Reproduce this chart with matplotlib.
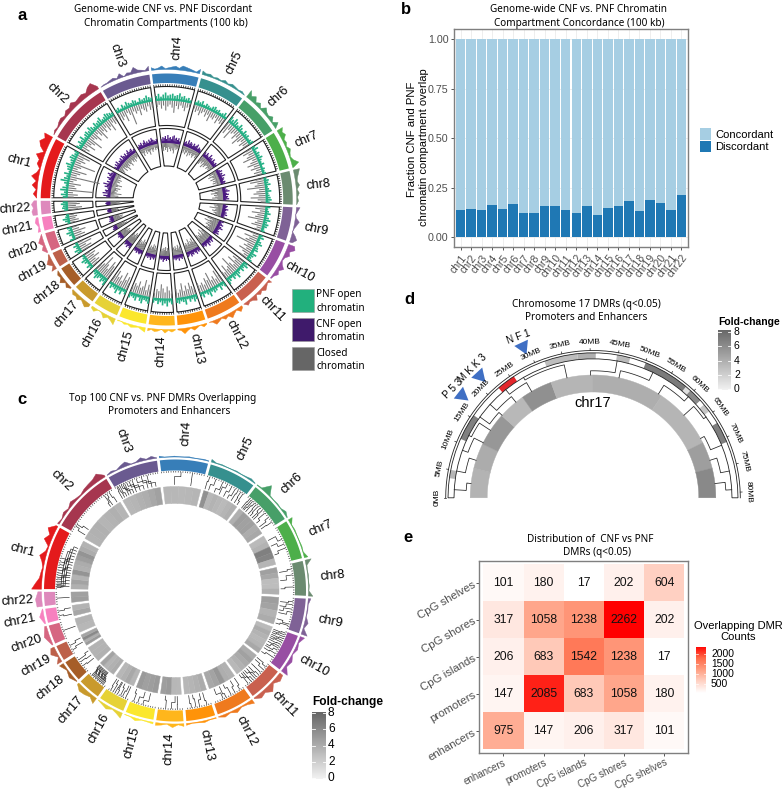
import numpy as np
import matplotlib
matplotlib.use('Agg')
import matplotlib.pyplot as plt
from matplotlib.patches import Polygon, Rectangle
from matplotlib.collections import LineCollection
from matplotlib.colors import LinearSegmentedColormap

W, H = 782, 792
SANS = 'Liberation Sans'
TITLE = 'Noto Sans'

chroms = ['chr%d' % i for i in range(1, 23)]
chr_colors = ['#E41A1C', '#A6364F', '#6A5A90', '#377EB8', '#36908E', '#479F68', '#4DAF4A', '#6B8B70',
              '#7F6296', '#984EA3', '#C9604F', '#EF7A1E', '#FF9309', '#FFB61C', '#FBE72C', '#E6D236',
              '#C99A2C', '#A65E28', '#BD604A', '#D66681', '#F781BF', '#DE89BC']
# angular length of each chromosome, degrees
chr_span = [28, 28.6, 22.5, 21.3, 20.9, 19, 17.6, 15.4, 15.5, 16.8, 15.4, 16.1,
            12.9, 12, 12.6, 11.6, 10, 9.5, 6.9, 8.4, 6.3, 6.2]

# panel a, outer histogram
a_hist = [
    [0, 4, 1, 6, 2, 8, 3, 1, 5, 4, 9, 2, 8, 11, 7, 10],
    [0, 2, 1, 3, 4, 2, 5, 4, 7, 4, 5, 6, 4, 8, 10, 3],
    [0, 1, 1, 2, 3, 1, 5, 0, 3, 2, 7, 3, 2, 1, 5],
    [3, 1, 2, 4, 1, 2, 3, 4, 2, 5, 4, 3, 2, 1, 5],
    [4, 2, 3, 1, 2, 1, 3, 1, 3, 2, 1, 2, 0],
    [9, 4, 7, 2, 5, 1, 6, 3, 2, 5, 1, 6, 0],
    [7, 4, 6, 2, 3, 1, 4, 2, 1, 3, 8, 1],
    [7, 5, 3, 2, 4, 1, 3, 1, 2, 0],
    [4, 2, 0, 1, 5, 3, 1, 0, 4, 7, 3],
    [7, 9, 4, 6, 2, 1, 3, 7, 3, 5, 2, 1],
    [4, 1, 3, 5, 2, 4, 1, 6, 3, 2, 4, 0],
    [2, 5, 1, 3, 6, 2, 4, 1, 3, 5, 1, 0],
    [1, 3, 0, 2, 4, 1, 3, 6, 2, 1],
    [1, 3, 1, 4, 0, 2, 3, 1, 3],
    [5, 3, 1, 2, 3, 1, 2, 0, 1],
    [7, 4, 2, 5, 1, 0, 4, 2],
    [3, 6, 4, 2, 5, 3, 4, 1],
    [1, 4, 1, 6, 2, 3, 0],
    [6, 2, 7, 3, 1],
    [1, 5, 2, 6, 3, 0],
    [3, 1, 4, 2],
    [5, 6, 4, 6, 3],
]

# panel a, PNF track: open chromatin above the midline, closed below
pnf_up = [
    [5, 7, 4, 8, 6, 3, 5, 9, 6, 4, 7, 3, 5, 6, 8, 4, 5, 7, 6, 4, 5],
    [6, 4, 7, 5, 8, 4, 6, 7, 5, 8, 6, 4, 7, 5, 6, 8, 4, 5, 7, 6, 5, 4],
    [4, 5, 3, 6, 4, 7, 5, 4, 6, 5, 3, 6, 4, 5, 7, 5, 4],
    [5, 7, 4, 6, 8, 5, 6, 7, 5, 6, 8, 5, 6, 4, 5, 3],
    [3, 5, 4, 6, 3, 5, 4, 3, 5, 6, 4, 5, 3, 4, 6, 3],
    [7, 5, 8, 6, 4, 7, 5, 3, 6, 4, 5, 3, 4, 5],
    [4, 6, 3, 5, 4, 6, 4, 3, 5, 2, 4, 3, 4],
    [3, 5, 4, 6, 3, 4, 6, 3, 4, 5, 6, 4],
    [5, 3, 4, 6, 3, 5, 7, 4, 6, 5, 3, 4],
    [4, 6, 3, 5, 7, 4, 5, 6, 3, 7, 5, 4, 6],
    [5, 7, 4, 6, 3, 5, 8, 4, 6, 3, 5, 7],
    [6, 4, 7, 3, 5, 6, 4, 8, 5, 3, 6, 4],
    [5, 7, 4, 6, 3, 8, 5, 4, 6, 5],
    [6, 4, 8, 5, 7, 4, 6, 3, 5],
    [7, 5, 4, 8, 6, 3, 7, 5, 4, 6],
    [5, 3, 7, 4, 8, 5, 4, 6, 3],
    [8, 5, 7, 4, 6, 8, 5, 4],
    [4, 6, 3, 5, 7, 4, 3],
    [5, 7, 4, 6, 3],
    [6, 3, 5, 7, 4, 5],
    [3, 5, 7, 4, 3],
    [4, 6, 5, 7, 5],
]
pnf_down = [
    [6, 10, 5, 25, 8, 6, 12, 4, 7, 30, 6, 9, 15, 5, 8, 22, 6, 10, 7, 13, 6],
    [5, 8, 4, 12, 6, 9, 16, 5, 7, 11, 4, 8, 14, 6, 9, 5, 10, 7, 13, 5, 8, 6],
    [5, 9, 6, 12, 4, 7, 18, 5, 8, 6, 11, 5, 7, 9, 4, 8, 6],
    [6, 4, 8, 5, 10, 6, 4, 7, 12, 5, 8, 4, 6, 9, 5, 4],
    [4, 7, 5, 9, 6, 4, 8, 5, 11, 6, 7, 4, 9, 5, 7, 6],
    [8, 12, 6, 15, 7, 5, 10, 6, 13, 8, 5, 9, 6, 7],
    [7, 11, 6, 9, 14, 5, 8, 12, 6, 10, 5, 8, 6],
    [8, 14, 7, 10, 18, 6, 9, 12, 7, 15, 8, 5],
    [6, 10, 5, 13, 7, 9, 16, 6, 8, 11, 5, 7],
    [9, 6, 14, 8, 11, 20, 7, 10, 6, 13, 8, 5, 9],
    [7, 12, 8, 15, 6, 10, 18, 9, 7, 13, 6, 8],
    [8, 14, 6, 10, 7, 16, 9, 12, 6, 9, 7, 10],
    [6, 9, 13, 7, 11, 6, 14, 8, 5, 9],
    [5, 8, 12, 6, 10, 14, 7, 9, 5],
    [8, 12, 6, 16, 9, 7, 13, 8, 10, 6],
    [7, 13, 9, 16, 6, 11, 8, 14, 7],
    [9, 14, 18, 8, 12, 20, 10, 7],
    [6, 10, 7, 13, 8, 11, 6],
    [8, 12, 7, 14, 6],
    [6, 11, 8, 13, 7, 5],
    [5, 9, 6, 8, 5],
    [10, 14, 8, 12, 9],
]

# panel a, CNF track
cnf_up = [
    [4, 7, 3, 8, 5, 6, 3, 4, 7, 5, 9, 4, 6, 3, 5, 7, 4, 6, 8, 5, 4],
    [5, 3, 6, 4, 7, 3, 5, 4, 6, 3, 7, 5, 4, 6, 3, 5, 7, 4, 5, 6, 3, 4],
    [3, 5, 4, 6, 3, 5, 7, 4, 5, 3, 6, 4, 7, 5, 4, 3, 5],
    [4, 6, 5, 7, 4, 8, 5, 6, 4, 7, 8, 5, 6, 4, 6, 3],
    [4, 5, 3, 7, 4, 6, 5, 3, 6, 4, 5, 7, 3, 5, 4, 3],
    [5, 3, 6, 4, 3, 7, 4, 5, 3, 6, 4, 3, 5, 4],
    [3, 4, 6, 3, 5, 4, 7, 3, 5, 4, 3, 5, 4],
    [4, 3, 5, 7, 3, 4, 6, 3, 5, 4, 6, 3],
    [3, 5, 4, 3, 6, 4, 3, 5, 4, 6, 3, 4],
    [5, 3, 4, 6, 3, 5, 7, 4, 3, 5, 4, 6, 3],
    [3, 4, 6, 3, 5, 4, 7, 3, 4, 5, 3, 4],
    [4, 5, 3, 6, 4, 3, 5, 4, 6, 3, 4, 5],
    [3, 5, 4, 3, 6, 3, 4, 5, 3, 4],
    [4, 3, 5, 3, 4, 6, 3, 4, 3],
    [3, 5, 4, 3, 6, 4, 3, 5, 3, 4],
    [4, 3, 5, 4, 3, 5, 3, 4, 3],
    [5, 3, 4, 6, 3, 4, 5, 3],
    [3, 4, 3, 5, 3, 4, 3],
    [4, 5, 3, 4, 3],
    [3, 5, 3, 4, 3, 4],
    [3, 4, 3, 4, 3],
    [4, 3, 5, 3, 4],
]
cnf_down = [
    [5, 8, 4, 11, 6, 4, 7, 5, 9, 4, 6, 10, 5, 4, 7, 5, 8, 4, 6, 5, 7],
    [4, 7, 5, 3, 8, 4, 6, 10, 5, 7, 4, 6, 9, 5, 4, 7, 5, 8, 4, 6, 5, 4],
    [5, 4, 8, 5, 3, 7, 4, 6, 9, 5, 4, 7, 5, 3, 6, 4, 5],
    [6, 8, 4, 7, 5, 9, 4, 6, 8, 5, 7, 10, 4, 6, 5, 4],
    [5, 7, 4, 8, 6, 4, 9, 5, 7, 4, 6, 8, 5, 4, 7, 5],
    [6, 9, 5, 7, 4, 10, 6, 8, 5, 4, 7, 5, 6, 4],
    [5, 8, 4, 10, 6, 5, 9, 4, 7, 5, 8, 4, 6],
    [7, 11, 5, 8, 12, 6, 9, 5, 8, 11, 6, 5],
    [6, 9, 5, 8, 13, 6, 7, 10, 5, 8, 6, 5],
    [8, 12, 6, 9, 14, 7, 10, 6, 11, 8, 6, 9, 5],
    [7, 10, 6, 13, 8, 6, 11, 7, 9, 6, 10, 5],
    [8, 6, 11, 7, 9, 6, 12, 8, 6, 9, 7, 6],
    [5, 8, 6, 10, 7, 5, 9, 6, 8, 5],
    [6, 8, 5, 9, 6, 8, 5, 7, 5],
    [7, 5, 9, 6, 10, 7, 5, 8, 6, 5],
    [6, 9, 7, 11, 6, 8, 5, 9, 6],
    [8, 11, 7, 12, 9, 6, 10, 7],
    [6, 9, 7, 10, 6, 8, 5],
    [8, 11, 6, 9, 6],
    [6, 9, 7, 10, 6, 5],
    [6, 8, 5, 7, 5],
    [7, 10, 6, 9, 6],
]

# panel c, outer histogram and inner fold-change ring
c_hist = [
    [11, 7, 3, 2, 1, 3, 7, 2, 1, 8, 4, 9, 2],
    [2, 0.5, 3, 1, 4, 2, 1, 3, 4, 5, 8, 2],
    [0.5, 2, 0.5, 3, 5, 0.5, 1, 4, 1, 3, 0.5],
    [2, 0.5, 0.5, 1, 0.5, 0.5, 1, 0.5, 0.5, 1, 0.5],
    [3, 0.5, 1, 0.5, 0.5, 1, 0.5, 1, 2, 0.5],
    [0.5, 1, 10, 1, 0.5, 1, 0.5, 3, 0.5],
    [5, 0.5, 1, 0.5, 0.5, 1, 0.5, 4],
    [7, 1, 0.5, 1, 0.5, 1, 0.5, 5],
    [3, 0.5, 1, 0.5, 4, 1, 7],
    [5, 1, 3, 0.5, 4, 2, 8],
    [4, 6, 2, 8, 3, 5, 1],
    [5, 2, 1, 4, 1, 3, 0.5],
    [1, 0.5, 2, 1, 0.5, 2],
    [3, 1, 4, 0.5, 2, 3],
    [2, 1, 0.5, 3, 0.5, 0.5],
    [6, 3, 1, 4, 2, 0.5],
    [7, 3, 5, 6, 2],
    [0.5, 4, 1, 5],
    [6, 1, 7, 4],
    [1, 6, 2],
    [1, 5, 0.5],
    [6, 7, 4],
]
c_ring = [
    [3.8, 4.5, 3.6, 5.4, 3.8, 4, 4.8, 5.4, 4, 3.6],
    [3.6, 3.7, 3.8, 3.5, 3.6, 3.8, 3.5],
    [3.4, 3.5, 3.7, 3.9, 4.2, 4.6],
    [3.4, 3.4, 3.3, 3.4, 3.5],
    [5.5, 3.3, 3.6, 3.4, 3.2, 3.5, 3.8],
    [3.8, 4.8, 4.6, 4.7, 4, 4.2],
    [3.2, 3.6, 6.5, 6.2, 3.5],
    [4.7, 4.2, 3, 3, 3.8],
    [4.8, 4.5, 3.6, 4],
    [3.2, 4, 3.6, 3.3, 3.5, 4.2],
    [4, 4.6, 4.1, 3.7, 3.3],
    [3.7, 3.9, 5.2, 4.5, 4.2],
    [4, 3.7, 3.5, 3.4],
    [3.3, 3.4, 5, 4.8],
    [5, 4.8, 4.7, 5],
    [3.5, 4.2, 3.7, 3.4],
    [4, 3.7, 3.5, 4.5],
    [3.7, 3.6, 3.6],
    [5, 3.9, 6, 4.4],
    [3.4, 3.6],
    [4.3, 3.6],
    [4.8, 4.6],
]
# DMR links: position on the band and on the ring, as fraction of the chromosome
link_from = [
    [.02, .03, .05, .07, .1, .13, .17, .2, .24, .28, .33, .38, .43, .48, .55],
    [.1, .14, .83, .88, .93],
    [.03, .06, .1, .14, .18, .22, .27, .33, .4, .5, .62, .75],
    [.45, .72],
    [.04, .2, .38, .5, .62, .72, .8, .87, .94],
    [.05, .1, .15, .22, .28, .35, .42, .5, .6, .75, .9],
    [.35, .5, .62],
    [.15, .35, .75],
    [.1, .2, .35, .45, .85, .9],
    [.03, .09, .15, .21, .27, .33, .4, .47, .53, .6, .72, .85],
    [.1, .22, .35, .45, .55, .62, .7, .78, .9],
    [.1, .28, .42, .6, .7],
    [.15, .45, .6, .78],
    [.2, .45, .7],
    [.5, .72, .9],
    [.1, .25, .35, .5, .62, .72, .85],
    [.1, .17, .24, .31, .38, .45, .52, .59, .66, .73, .8, .87],
    [.35, .6, .75],
    [.25, .65],
    [.5],
    [.3, .7],
    [.5],
]
link_to = [
    [.05, .1, .16, .22, .26, .31, .36, .41, .47, .52, .58, .64, .7, .76, .82],
    [.06, .18, .8, .85, .95],
    [.02, .08, .14, .2, .26, .33, .4, .5, .6, .7, .8, .9],
    [.3, .72],
    [.02, .12, .28, .42, .55, .66, .78, .88, .97],
    [.04, .09, .13, .2, .3, .38, .46, .52, .66, .8, .88],
    [.2, .4, .7],
    [.2, .5, .8],
    [.15, .3, .45, .55, .78, .94],
    [.06, .12, .18, .24, .3, .36, .42, .5, .6, .66, .75, .9],
    [.05, .15, .35, .5, .6, .7, .78, .85, .95],
    [.05, .22, .5, .65, .85],
    [.2, .35, .65, .82],
    [.2, .3, .75],
    [.3, .55, .95],
    [.1, .2, .42, .55, .6, .78, .88],
    [.3, .35, .4, .46, .52, .58, .64, .7, .76, .82, .88, .94],
    [.3, .55, .85],
    [.4, .8],
    [.5],
    [.2, .8],
    [.5],
]

# panel b
discordant = [.135, .14, .135, .162, .14, .167, .123, .123, .157, .155, .137, .12,
              .155, .11, .147, .155, .182, .133, .185, .172, .137, .212]

# panel d
d_ticks = list(range(0, 85, 5))
d_band_start = [3.5, 10.8, 31.7, 37.7, 44.8, 50.1, 58.5, 59.5, 63, 67]
d_band_end = [5, 15.6, 37.7, 41, 47.2, 58.5, 59.5, 62, 64.5, 70.8]
d_band_fold = [3.5, 6.5, 3, 3.8, 3.2, 6.8, 1, 6, 2.5, 6.6]
d_red_start, d_red_end = 22.2, 25.6
d_ring_edges = [0, 6.3, 11.7, 18.9, 24.75, 31.5, 40.5, 55.8, 69, 74.7, 81]
d_ring_fold = [3.6, 4, 5.2, 3.3, 5.6, 3.5, 3.9, 3.5, 4.8, 6]
d_link_ring = [3, 8, 12, 15, 19, 23, 27, 35, 40, 46, 55, 62, 68, 73, 78]
d_link_band = [1.5, 5, 9, 12, 16, 19, 23, 27, 45, 52, 60, 65, 71, 76, 79.5]
genes = ['P 5 3', 'M K K 3', 'N F 1']
gene_pos = [17.1, 21.2, 29.3]
gene_rot = [45, 45, 20]

# panel e
e_labels = ['enhancers', 'promoters', 'CpG islands', 'CpG shores', 'CpG shelves']
e_enhancers = [975, 147, 206, 317, 101]
e_promoters = [147, 2085, 683, 1058, 180]
e_islands = [206, 683, 1542, 1238, 17]
e_shores = [317, 1058, 1238, 2262, 202]
e_shelves = [101, 180, 17, 202, 604]

fold_cmap = LinearSegmentedColormap.from_list('fold', ['#F2F2F2', '#666666'])
count_cmap = LinearSegmentedColormap.from_list('count', ['#FFFFFF', '#FFD2C4', '#FF9E81', '#FF6A48', '#FF0000'])

fig = plt.figure(figsize=(W / 100, H / 100), dpi=100)
canvas = fig.add_axes([0, 0, 1, 1])
canvas.set_xlim(0, W)
canvas.set_ylim(H, 0)
canvas.set_axis_off()

# angle at the middle of the gap before each chromosome
chr_gap = (360 - sum(chr_span)) / 22
gap_mid = [180.0]
for s in chr_span:
    gap_mid.append(gap_mid[-1] - s - chr_gap)


def pol(cx, cy, r, t):
    t = np.radians(t)
    return np.column_stack([cx + r * np.cos(t), cy - r * np.sin(t)])


def chr_limits(i, r, half_gap):
    d = np.degrees(half_gap / r)
    return gap_mid[i] - d, gap_mid[i + 1] + d


def sector(cx, cy, r_out, r_in, t0, t0_in, t1, t1_in):
    a = np.linspace(t0, t1, 40)
    b = np.linspace(t1_in, t0_in, 40)
    return np.vstack([pol(cx, cy, r_out, a), pol(cx, cy, r_in, b)])


def chr_sector(cx, cy, i, r_out, r_in, half_gap):
    t0, t1 = chr_limits(i, r_out, half_gap)
    t0i, t1i = chr_limits(i, r_in, half_gap)
    return sector(cx, cy, r_out, r_in, t0, t0i, t1, t1i)


def txt(x, y, s, size=8, family=SANS, **kw):
    kw.setdefault('ha', 'center')
    kw.setdefault('va', 'center')
    canvas.text(x, y, s, fontsize=size, family=family, **kw)


def spikes(cx, cy, i, r0, vals, sign, color, lw, half_gap):
    t0, t1 = chr_limits(i, r0, half_gap + 0.8)
    t = np.linspace(t0, t1, len(vals))
    p0 = pol(cx, cy, r0, t)
    p1 = pol(cx, cy, r0 + sign * np.array(vals, dtype=float), t)
    canvas.add_collection(LineCollection(np.stack([p0, p1], axis=1), colors=color, linewidths=lw))
    if sign > 0:
        canvas.add_patch(Polygon(chr_sector(cx, cy, i, r0 + 2.2, r0, half_gap + 0.8), closed=True, fc=color, ec='none'))


def outer_hist(cx, cy, i, r0, vals, scale=1.0):
    t0, t1 = chr_limits(i, r0, 1.3)
    t = np.linspace(t0, t1, len(vals))
    top = pol(cx, cy, r0 + np.array(vals, dtype=float) * scale, t)
    base = pol(cx, cy, r0, t[::-1])
    canvas.add_patch(Polygon(np.vstack([top, base]), closed=True, fc=chr_colors[i], ec=chr_colors[i], lw=0.3))


def chr_label(cx, cy, i, r, size):
    t = (gap_mid[i] + gap_mid[i + 1]) / 2
    p = pol(cx, cy, r, t)[0]
    rot = t if np.cos(np.radians(t)) >= 0 else t - 180
    txt(p[0], p[1], chroms[i], size=size, rotation=rot, rotation_mode='anchor')


def ticks(cx, cy, i, r0, r1, lw):
    t0, t1 = chr_limits(i, r0, 1.6)
    t = np.arange(t0, t1, -1.15)
    canvas.add_collection(LineCollection(np.stack([pol(cx, cy, r0, t), pol(cx, cy, r1, t)], axis=1),
                                         colors='#111111', linewidths=lw))


# ---- panel a ----
ax_c, ay_c = 166.7, 199.5
for i in range(22):
    outer_hist(ax_c, ay_c, i, 130, a_hist[i], 0.9)
    canvas.add_patch(Polygon(chr_sector(ax_c, ay_c, i, 126, 116.5, 1.3), closed=True, fc=chr_colors[i], ec='none'))
    ticks(ax_c, ay_c, i, 113, 115.3, 0.5)
    spikes(ax_c, ay_c, i, 99, pnf_down[i], -1, '#7A7A7A', 0.8, 1.75)
    spikes(ax_c, ay_c, i, 99, pnf_up[i], 1, '#25B085', 1.2, 1.75)
    spikes(ax_c, ay_c, i, 56.5, cnf_down[i], -1, '#7A7A7A', 0.7, 1.75)
    spikes(ax_c, ay_c, i, 56.5, cnf_up[i], 1, '#4A1A80', 0.9, 1.75)
    canvas.add_patch(Polygon(chr_sector(ax_c, ay_c, i, 113, 74, 1.75), closed=True, fc='none', ec='#222222', lw=0.8))
    canvas.add_patch(Polygon(chr_sector(ax_c, ay_c, i, 71, 33.5, 1.75), closed=True, fc='none', ec='#222222', lw=0.8))
    chr_label(ax_c, ay_c, i, 152, 9)

txt(163, 10, 'Genome-wide CNF vs. PNF Discordant', size=7.2, family=TITLE)
txt(166, 23.5, 'Chromatin Compartments (100 kb)', size=7.2, family=TITLE)
a_leg_colors = ['#22B07D', '#3F1A6B', '#666666']
a_leg_text = [('PNF open', 'chromatin'), ('CNF open', 'chromatin'), ('Closed', 'chromatin')]
for k, top in enumerate([289, 318, 347]):
    canvas.add_patch(Rectangle((292, top), 22, 22.5, fc=a_leg_colors[k], ec='#999999', lw=0.4))
    txt(316.5, top + 6, a_leg_text[k][0], size=7.2, family=TITLE, ha='left')
    txt(316.5, top + 19.5, a_leg_text[k][1], size=7.2, family=TITLE, ha='left')

# ---- panel c ----
cx_c, cy_c = 175, 590.5
for i in range(22):
    outer_hist(cx_c, cy_c, i, 133.5, c_hist[i], 0.9)
    canvas.add_patch(Polygon(chr_sector(cx_c, cy_c, i, 131, 120, 1.4), closed=True, fc=chr_colors[i], ec='none'))
    ticks(cx_c, cy_c, i, 118, 119.5, 0.4)
    # ring cells
    t0, t1 = chr_limits(i, 95, 1.4)
    edges = np.linspace(t0, t1, len(c_ring[i]) + 1)
    for k, v in enumerate(c_ring[i]):
        canvas.add_patch(Polygon(sector(cx_c, cy_c, 104, 87, edges[k], edges[k], edges[k + 1], edges[k + 1]),
                                 closed=True, fc=fold_cmap(v / 8), ec=fold_cmap(v / 8), lw=0.3))
    # links
    ta0, ta1 = chr_limits(i, 118, 2)
    for k, (f, g) in enumerate(zip(link_from[i], link_to[i])):
        t_a = ta0 + f * (ta1 - ta0)
        t_b = t0 + g * (t1 - t0)
        r_e = 114 - (k % 3) * 2
        pts = np.vstack([pol(cx_c, cy_c, 118, np.array([t_a])),
                         pol(cx_c, cy_c, r_e, np.linspace(t_a, t_b, 6)),
                         pol(cx_c, cy_c, 106, np.array([t_b]))])
        canvas.plot(pts[:, 0], pts[:, 1], color='#222222', lw=0.45)
    chr_label(cx_c, cy_c, i, 158, 9.3)

txt(163, 398, 'Top 100 CNF vs. PNF DMRs Overlapping', size=7.2, family=TITLE)
txt(169, 412, 'Promoters and Enhancers', size=7.2, family=TITLE)


def fold_bar(left, top, right, bottom, tick_top, tick_bottom, label_x, head_y, head_size):
    bar = fig.add_axes([left / W, 1 - bottom / H, (right - left) / W, (bottom - top) / H])
    bar.imshow(np.linspace(1, 0, 128).reshape(-1, 1), aspect='auto', cmap=fold_cmap, vmin=0, vmax=1)
    bar.set_axis_off()
    for v in [0, 2, 4, 6, 8]:
        y = tick_bottom + (tick_top - tick_bottom) * v / 8
        canvas.plot([left, left + 3], [y, y], color='white', lw=0.6)
        canvas.plot([right - 3, right], [y, y], color='white', lw=0.6)
        txt(label_x, y, str(v), size=head_size, ha='left')
    txt(left, head_y, 'Fold-change', size=head_size, ha='left', fontweight='bold')


canvas.set_zorder(3)
canvas.patch.set_alpha(0)
fold_bar(312, 712, 326, 779, 713, 778, 328, 702, 8.6)
fold_bar(718, 330, 731, 390, 332, 389, 734, 322, 7.5)

# ---- panel d ----
dx, dy = 593, 497.8


def mb(p):
    return 180 - np.asarray(p, dtype=float) / 81 * 180


for k, v in enumerate(d_ring_fold):
    a, b = mb(d_ring_edges[k]), mb(d_ring_edges[k + 1])
    canvas.add_patch(Polygon(sector(dx, dy, 122.8, 105.8, a, a, b, b), closed=True, fc=fold_cmap(v / 8), ec=fold_cmap(v / 8), lw=0.3))

for s, e, v in zip(d_band_start, d_band_end, d_band_fold):
    a, b = mb(s), mb(e)
    canvas.add_patch(Polygon(sector(dx, dy, 145, 139, a, a, b, b), closed=True, fc=fold_cmap(v / 8), ec='none'))
a, b = mb(d_red_start), mb(d_red_end)
canvas.add_patch(Polygon(sector(dx, dy, 145, 139, a, a, b, b), closed=True, fc='#E3262B', ec='none'))

arc = mb(np.linspace(0, 81, 200))
band_outline = sector(dx, dy, 145, 139, 180, 180, 0, 0)
canvas.add_patch(Polygon(band_outline, closed=True, fc='none', ec='#222222', lw=0.6))
p = pol(dx, dy, 147.3, arc)
canvas.plot(p[:, 0], p[:, 1], color='#222222', lw=0.6)

for v in d_ticks:
    t = mb(v)
    seg = np.vstack([pol(dx, dy, 147.3, np.array([t])), pol(dx, dy, 149.3, np.array([t]))])
    canvas.plot(seg[:, 0], seg[:, 1], color='#222222', lw=0.5)
    q = pol(dx, dy, 156, np.array([t]))[0]
    txt(q[0], q[1], '%dMB' % v, size=6, rotation=t - 90, rotation_mode='anchor')

for k, (f, g) in enumerate(zip(d_link_ring, d_link_band)):
    r_e = 127 + (k % 4) * 3
    t_a, t_b = mb(f), mb(g)
    pts = np.vstack([pol(dx, dy, 122.8, np.array([t_a])),
                     pol(dx, dy, r_e, np.linspace(t_a, t_b, 20)),
                     pol(dx, dy, 139, np.array([t_b]))])
    canvas.plot(pts[:, 0], pts[:, 1], color='#222222', lw=0.55)

for g, pos, rot in zip(genes, gene_pos, gene_rot):
    t = mb(pos)
    tip = pol(dx, dy, 158, np.array([t]))
    wing = np.degrees(7.5 / 171)
    tri = np.vstack([tip, pol(dx, dy, 171, np.array([t - wing, t + wing]))])
    canvas.add_patch(Polygon(tri, closed=True, fc='#3F6FC4', ec='none'))
    q = pol(dx, dy, 177, np.array([t]))[0]
    txt(q[0], q[1], g, size=7.2, rotation=rot, rotation_mode='anchor', zorder=5)

txt(592.5, 403.3, 'chr17', size=10.5)
txt(586, 304, 'Chromosome 17 DMRs (q<0.05)', size=7.2, family=TITLE)
txt(586, 318, 'Promoters and Enhancers', size=7.2, family=TITLE)

# ---- panel b ----
ax_b = fig.add_axes([454.3 / W, 1 - 247.3 / H, (687.7 - 454.3) / W, (247.3 - 29) / H])
xs = np.arange(1, 23)
ax_b.bar(xs, discordant, width=0.9, color='#1F78B4', zorder=2)
ax_b.bar(xs, 1 - np.array(discordant), bottom=discordant, width=0.9, color='#A6CEE3', zorder=2)
ax_b.set_xlim(0.4, 22.6)
ax_b.set_ylim(-0.052, 1.052)
ax_b.set_yticks([0, .25, .5, .75, 1])
ax_b.set_yticklabels(['0.00', '0.25', '0.50', '0.75', '1.00'], fontsize=7.7, family=SANS, color='#4D4D4D')
ax_b.set_xticks(xs)
ax_b.set_xticklabels(chroms, rotation=52, ha='right', rotation_mode='anchor', fontsize=7.5, family=SANS, color='#4D4D4D')
ax_b.tick_params(length=2.5, color='#555555', width=0.7, pad=1.5)
ax_b.grid(True, color='#EBEBEB', lw=0.6, zorder=0)
for sp in ax_b.spines.values():
    sp.set_color('#7F7F7F')
    sp.set_linewidth(1)
txt(411.7, 139, 'Fraction CNF and PNF', size=8.2, rotation=90)
txt(424, 147, 'chromatin compartment overlap', size=8, rotation=90)
txt(578, 10, 'Genome-wide CNF vs. PNF Chromatin', size=7.2, family=TITLE)
txt(579, 23.5, 'Compartment Concordance (100 kb)', size=7.2, family=TITLE)
canvas.add_patch(Rectangle((700, 128.3), 11, 11.7, fc='#A6CEE3', ec='none'))
canvas.add_patch(Rectangle((700, 141), 11, 11.3, fc='#1F78B4', ec='none'))
txt(715, 135, 'Concordant', size=8, ha='left')
txt(715, 146.7, 'Discordant', size=8, ha='left')

# ---- panel e ----
ax_e = fig.add_axes([479.3 / W, 1 - 752.7 / H, (688.3 - 479.3) / W, (752.7 - 560.7) / H])
rows = [e_enhancers, e_promoters, e_islands, e_shores, e_shelves]
grid = np.array(rows, dtype=float)
vmin, vmax = grid.min(), grid.max()
ax_e.pcolormesh(np.arange(0.5, 6), np.arange(0.5, 6), grid, cmap=count_cmap, vmin=vmin, vmax=vmax)
for r, row in enumerate(rows):
    for c, v in enumerate(row):
        ax_e.text(c + 1, r + 1, str(v), ha='center', va='center', fontsize=8.7, family=SANS, color='#111111')
ax_e.set_xlim(0.4, 5.6)
ax_e.set_ylim(0.4, 5.6)
ax_e.set_xticks(range(1, 6))
ax_e.set_yticks(range(1, 6))
ax_e.set_xticklabels(e_labels, rotation=26, ha='right', rotation_mode='anchor', fontsize=7.1, family=SANS, color='#4D4D4D')
ax_e.set_yticklabels(e_labels, rotation=30, ha='right', rotation_mode='anchor', fontsize=8.2, family=SANS, color='#4D4D4D')
ax_e.tick_params(length=2.5, color='#555555', width=0.7, pad=1)
for sp in ax_e.spines.values():
    sp.set_color('#7F7F7F')
    sp.set_linewidth(1)
txt(590, 539, 'Distribution of  CNF vs PNF', size=7.2, family=TITLE)
txt(597, 552.7, 'DMRs (q<0.05)', size=7.2, family=TITLE)
txt(738, 625.7, 'Overlapping DMR', size=8)
txt(738, 637, 'Counts', size=8)
cb = fig.add_axes([696 / W, 1 - 693.5 / H, 10 / W, (693.5 - 646.7) / H])
cb.imshow(np.linspace(vmax, vmin, 128).reshape(-1, 1), aspect='auto', cmap=count_cmap, vmin=vmin, vmax=vmax)
cb.set_axis_off()
for v in [500, 1000, 1500, 2000]:
    y = 683.7 - (v - 500) / 500 * 10
    canvas.plot([696, 698], [y, y], color='white', lw=0.5)
    canvas.plot([704, 706], [y, y], color='white', lw=0.5)
    txt(711, y, str(v), size=7.4, ha='left')

# panel letters
for s, x, y in [('a', 22, 15), ('b', 406, 10), ('c', 22, 400), ('d', 409, 300), ('e', 408, 537)]:
    txt(x, y, s, size=12, fontweight='bold')

fig.savefig('out.png', dpi=100)
